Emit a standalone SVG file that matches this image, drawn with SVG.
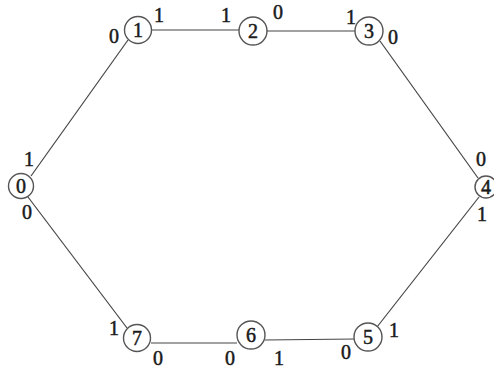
<svg xmlns="http://www.w3.org/2000/svg" width="494" height="368" viewBox="0 0 494 368">
<style>
.n circle{fill:#fff;stroke:#555;stroke-width:1.4}
text{font-family:'Liberation Serif','Times New Roman',serif;font-size:20px;fill:#1a1a1a;stroke:#1a1a1a;stroke-width:0.5;text-anchor:middle}
.e line{stroke:#444;stroke-width:1.2}
</style>
<rect width="494" height="368" fill="#fff"/>
<g id="connectors" class="e">
<line x1="152" y1="30" x2="239" y2="30"/>
<line x1="267" y1="31" x2="355" y2="31"/>
<line x1="380" y1="41" x2="478" y2="178"/>
<line x1="479" y1="197" x2="377" y2="327"/>
<line x1="265" y1="340" x2="355" y2="339"/>
<line x1="151" y1="343" x2="237" y2="343"/>
<line x1="127" y1="328" x2="28" y2="197"/>
<line x1="31" y1="176" x2="128" y2="40"/>
</g>
<g id="node0" class="n"><circle cx="21" cy="186" r="12.5"/><text x="21" y="192.5">0</text><text x="29" y="166">1</text><text x="27" y="219">0</text></g>
<g id="node1" class="n"><circle cx="138" cy="30" r="13.5"/><text x="138" y="36.5">1</text><text x="114" y="43">0</text><text x="159" y="22">1</text></g>
<g id="node2" class="n"><circle cx="253" cy="31" r="14"/><text x="253" y="37.5">2</text><text x="226" y="22">1</text><text x="278" y="19">0</text></g>
<g id="node3" class="n"><circle cx="369" cy="31" r="14"/><text x="369" y="37.5">3</text><text x="351" y="24">1</text><text x="393" y="44">0</text></g>
<g id="node4" class="n"><circle cx="486" cy="187" r="11"/><text x="486" y="193.5">4</text><text x="481" y="166">0</text><text x="482" y="221">1</text></g>
<g id="node5" class="n"><circle cx="368" cy="337" r="14"/><text x="368" y="343.5">5</text><text x="346" y="359">0</text><text x="394" y="337">1</text></g>
<g id="node6" class="n"><circle cx="251" cy="335" r="14"/><text x="251" y="341.5">6</text><text x="230" y="365">0</text><text x="279" y="365">1</text></g>
<g id="node7" class="n"><circle cx="137" cy="338" r="13.5"/><text x="137" y="344.5">7</text><text x="114" y="335">1</text><text x="158" y="365">0</text></g>
</svg>
